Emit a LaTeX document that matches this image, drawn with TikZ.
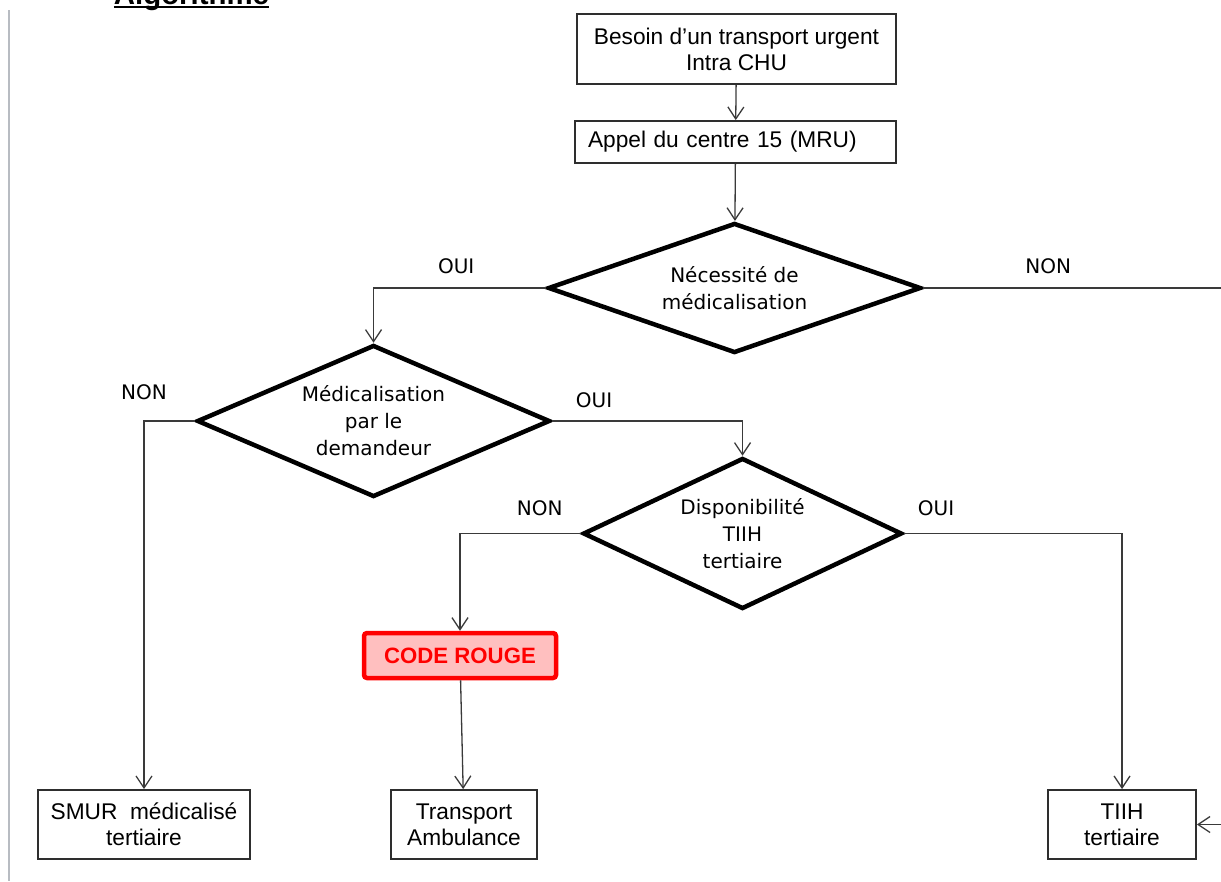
\documentclass[tikz,border=0pt]{standalone}
\usepackage{fontspec}
\setmainfont{Liberation Sans}
\newfontfamily\tahoma{DejaVu Sans}
\usepackage{tikz}
\usetikzlibrary{shapes.geometric,arrows.meta}
\definecolor{Trait}{HTML}{3A3A3A}
\definecolor{Cadre}{HTML}{2E2E2E}
\definecolor{Rouge}{HTML}{FF0000}
\definecolor{RosePale}{HTML}{FFBFBF}
\definecolor{Marge}{HTML}{B8BCC2}
\newcommand\souligne[1]{\setbox0\hbox{#1}\rlap{\rule[-3.5pt]{\wd0}{2.5pt}}\box0}

\begin{document}
\begin{tikzpicture}[x=1pt,y=-1pt,
  boite/.style={draw=Cadre,line width=1.8pt,align=center,inner sep=0pt,font=\fontsize{22.7}{26}\selectfont},
  losange/.style={diamond,draw=black,line width=4.5pt,align=center,inner sep=0pt,font=\tahoma\fontsize{20}{27}\selectfont},
  fleche/.style={-{Straight Barb[length=12pt,width=16pt]},draw=Trait,line width=1.3pt},
  ligne/.style={draw=Trait,line width=1.3pt},
  choix/.style={font=\tahoma\fontsize{20}{24}\selectfont,inner sep=0pt}]
  \useasboundingbox (0,0) rectangle (1221,881);
  \draw[Marge,line width=2pt] (9,10) -- (9,881);
  \node[anchor=base,inner sep=0pt,font=\bfseries\fontsize{29.4}{30}\selectfont] (titre) at (191.5,4.5) {\souligne{Algorithme}};
  \node[boite,minimum width=319pt,minimum height=70pt] (besoin) at (736.5,49) {Besoin d’un transport urgent\\Intra CHU};
  \node[boite,minimum width=321pt,minimum height=42pt,text width=295pt,align=left,inner xsep=13pt] (appel) at (735.5,142) {Appel du centre 15 (MRU)};
  \node[losange,aspect=2.87,minimum width=373pt,minimum height=130pt] (necessite) at (734.5,288) {Nécessité de\\médicalisation};
  \node[losange,aspect=2.32,minimum width=353pt,minimum height=152pt] (demandeur) at (373.5,421) {Médicalisation\\par le\\demandeur};
  \node[losange,aspect=2.11,minimum width=319pt,minimum height=151pt] (dispo) at (742.5,533.5) {Disponibilité\\TIIH\\tertiaire};
  \node[draw=Rouge,fill=RosePale,line width=4.5pt,rounded corners=3pt,minimum width=192pt,minimum height=45pt,inner sep=0pt,text=Rouge,font=\bfseries\fontsize{22.2}{26}\selectfont] (code) at (460,655.5) {CODE ROUGE};
  \node[boite,minimum width=212pt,minimum height=69pt] (smur) at (144,824.5) {SMUR\ \ médicalisé\\tertiaire};
  \node[boite,minimum width=146pt,minimum height=69pt] (ambulance) at (464,824.5) {Transport\\Ambulance};
  \node[boite,minimum width=148pt,minimum height=69pt] (tiih) at (1122,824.5) {TIIH\\tertiaire};
  \coordinate (sortie) at (1221,288);
  \coordinate (retour) at (1221,824.5);
  \draw[fleche] (besoin) -- (appel);
  \draw[fleche] (appel) -- (necessite);
  \draw[fleche] (necessite.west) -| node[choix,pos=0.26,above=14pt] (oui1) {OUI} (demandeur.north);
  \draw[ligne] (necessite.east) -- node[choix,pos=0.42,above=14pt] (non1) {NON} (sortie);
  \draw[fleche] (demandeur.west) -| node[choix,pos=0.5,above=21pt] (non2) {NON} (smur.north);
  \draw[fleche] (demandeur.east) -| node[choix,pos=0.11,above=13pt] (oui2) {OUI} (dispo.north);
  \draw[fleche] (dispo.west) -| node[choix,pos=0.17,above=17pt] (non3) {NON} (code.north);
  \draw[fleche] (dispo.east) -| node[choix,pos=0.073,above=17pt] (oui3) {OUI} (tiih.north);
  \draw[fleche] (code) -- (ambulance);
  \draw[fleche] (retour) -- (tiih.east);
\end{tikzpicture}
\end{document}
